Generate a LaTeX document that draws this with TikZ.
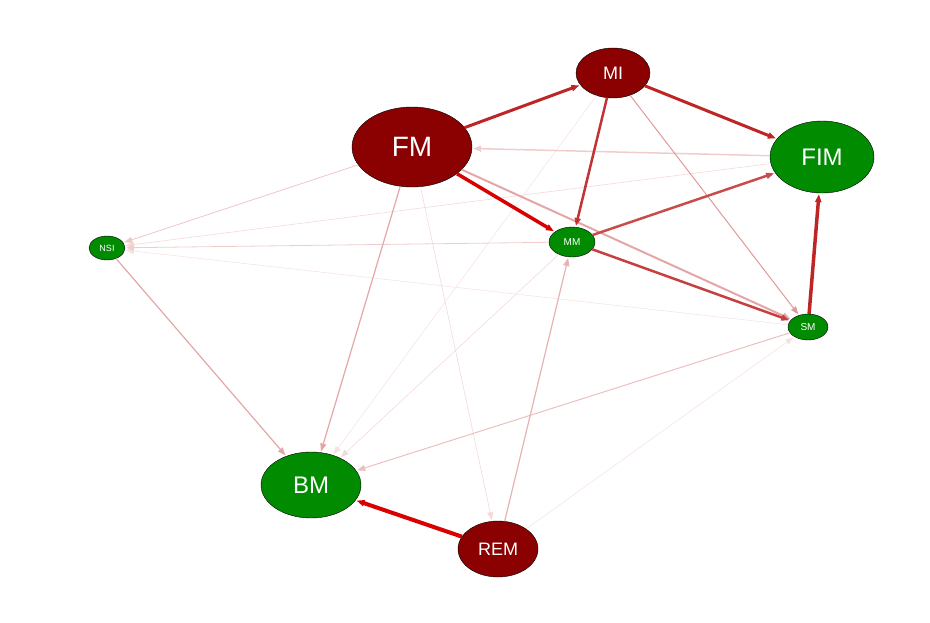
\documentclass[tikz,border=0pt]{standalone}
\usepackage{fontspec}
\setsansfont{Liberation Sans}
\usetikzlibrary{shapes.geometric, arrows.meta}
\definecolor{hub}{HTML}{8B0000}
\definecolor{leaf}{HTML}{008B00}
\tikzstyle{src} = [ellipse, draw=black, fill=hub, text=white, font=\sffamily, inner sep=0pt]
\tikzstyle{dst} = [ellipse, draw=black, fill=leaf, text=white, font=\sffamily, inner sep=0pt]
\tikzstyle{edge} = [-{Triangle[length=8pt,width=6pt]}, shorten >=1pt]

\begin{document}
\begin{tikzpicture}[x=1pt, y=-1pt]
    \useasboundingbox (0,0) rectangle (930,622);
    \node [src, minimum width=120pt, minimum height=80pt, font=\sffamily\fontsize{28}{30}\selectfont] at (412,147) (FM) {FM};
    \node [src, minimum width=74pt, minimum height=50pt, font=\sffamily\fontsize{18}{20}\selectfont] at (613,73) (MI) {MI};
    \node [src, minimum width=80pt, minimum height=56pt, font=\sffamily\fontsize{18}{20}\selectfont] at (498,549) (REM) {REM};
    \node [dst, minimum width=104pt, minimum height=72pt, font=\sffamily\fontsize{24}{26}\selectfont] at (822,157) (FIM) {FIM};
    \node [dst, minimum width=100pt, minimum height=66pt, font=\sffamily\fontsize{24}{26}\selectfont] at (311,485) (BM) {BM};
    \node [dst, minimum width=46pt, minimum height=30pt, font=\sffamily\fontsize{10}{11}\selectfont] at (572,242) (MM) {MM};
    \node [dst, minimum width=40pt, minimum height=26pt, font=\sffamily\fontsize{10}{11}\selectfont] at (808,327) (SM) {SM};
    \node [dst, minimum width=36pt, minimum height=24pt, font=\sffamily\fontsize{9}{10}\selectfont] at (107,248) (NSI) {NSI};
    % faint links
    \draw [edge, red!70!black!12, line width=0.5pt] (SM) -- (NSI);
    \draw [edge, red!70!black!12, line width=0.5pt] (REM) -- (SM);
    \draw [edge, red!70!black!12, line width=0.5pt] (MI) -- (BM);
    \draw [edge, red!70!black!15, line width=0.6pt] (MM) -- (BM);
    \draw [edge, red!70!black!15, line width=0.6pt] (FM) -- (REM);
    \draw [edge, red!70!black!15, line width=0.6pt] (FIM) -- (NSI);
    \draw [edge, red!70!black!20, line width=0.8pt] (MM) -- (NSI);
    \draw [edge, red!70!black!22, line width=0.8pt] (FM) -- (NSI);
    \draw [edge, red!70!black!20, line width=1.5pt] (FIM) -- (FM);
    \draw [edge, red!70!black!25, line width=1pt] (SM) -- (BM);
    \draw [edge, red!70!black!30, line width=1.2pt] (REM) -- (MM);
    \draw [edge, red!70!black!35, line width=1.2pt] (FM) -- (BM);
    \draw [edge, red!70!black!35, line width=1.2pt] (NSI) -- (BM);
    \draw [edge, red!70!black!40, line width=1pt] (MI) -- (SM);
    \draw [edge, red!70!black!35, line width=2pt] (FM) -- (SM);
    % strong links
    \draw [edge, red!70!black!70, line width=2.5pt] (MM) -- (FIM);
    \draw [edge, red!70!black!75, line width=2.5pt] (MM) -- (SM);
    \draw [edge, red!70!black!80, line width=2.5pt] (MI) -- (MM);
    \draw [edge, red!70!black!85, line width=3pt] (MI) -- (FIM);
    \draw [edge, red!70!black!85, line width=3pt] (FM) -- (MI);
    \draw [edge, red!70!black!85, line width=3.5pt] (SM) -- (FIM);
    \draw [edge, red!85!black, line width=3.5pt] (FM) -- (MM);
    \draw [edge, red!85!black, line width=4pt] (REM) -- (BM);
\end{tikzpicture}
\end{document}
